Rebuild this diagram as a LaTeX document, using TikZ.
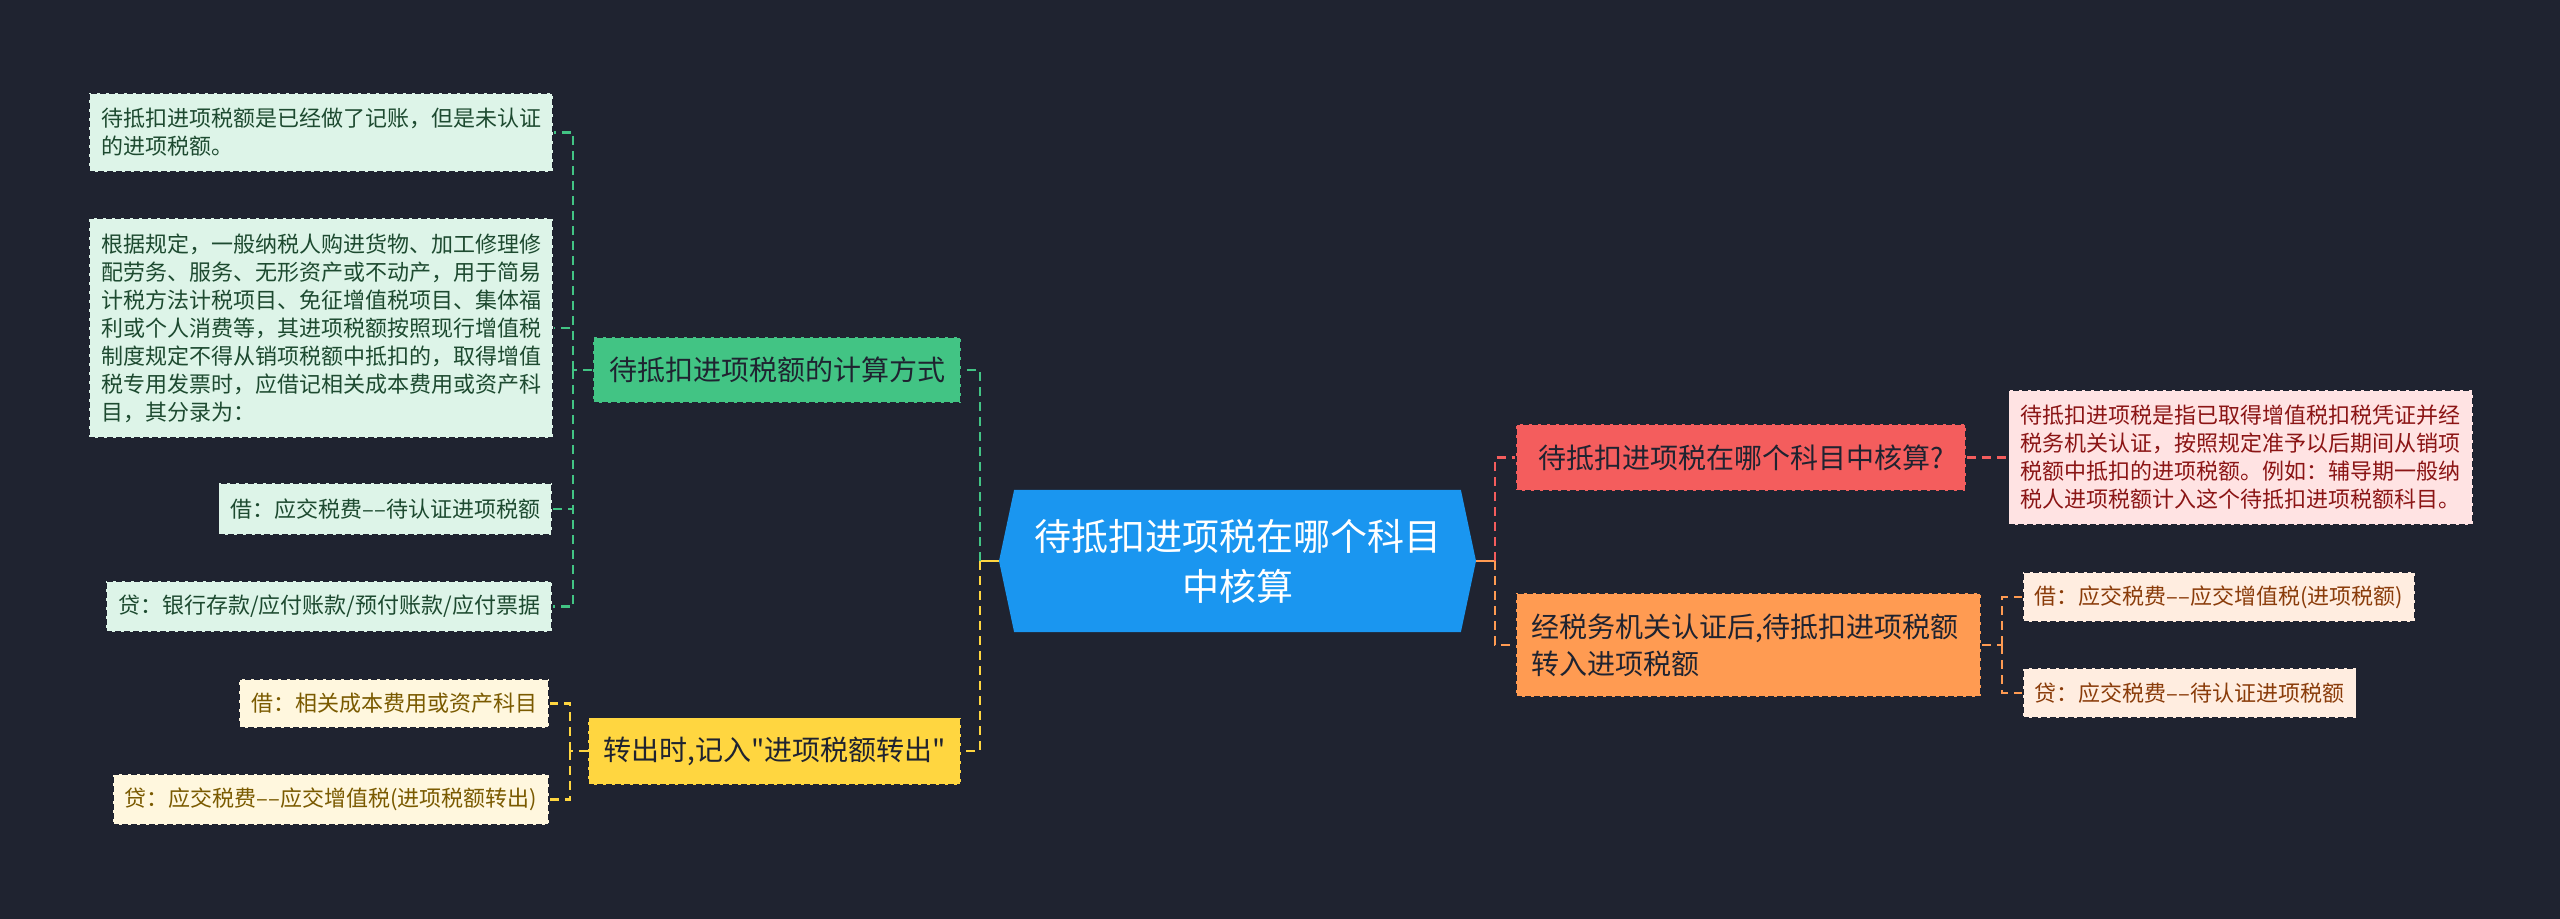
\documentclass[tikz,border=0pt]{standalone}
\usepackage{fontspec}
\setmainfont{Noto Sans CJK SC}[Ligatures=TeXOff]
\usetikzlibrary{shapes.symbols, positioning}
\definecolor{bgdark}{HTML}{1F2330}
\definecolor{rootblue}{HTML}{1A96F0}
\definecolor{gmain}{HTML}{42C484}
\definecolor{gleaf}{HTML}{DDF4E8}
\definecolor{gtext}{HTML}{1D4A30}
\definecolor{ymain}{HTML}{FFD640}
\definecolor{yleaf}{HTML}{FFF7DE}
\definecolor{ytext}{HTML}{7A5A00}
\definecolor{rmain}{HTML}{F45D5D}
\definecolor{rleaf}{HTML}{FFE3E3}
\definecolor{rtext}{HTML}{8B1515}
\definecolor{omain}{HTML}{FF9B52}
\definecolor{oleaf}{HTML}{FFEDE0}
\definecolor{otext}{HTML}{8A3C0A}
\newcommand{\dd}{–{}–}

\begin{document}
\begin{tikzpicture}[
        x=0.5pt, y=-0.5pt,
        rootbox/.style={shape=signal, signal to=west and east, signal pointer angle=156, fill=rootblue, text=white, align=center, inner sep=0pt, minimum width=238.5pt, minimum height=71pt, font=\fontsize{18.5}{25}\selectfont},
        mainbox/.style={rectangle, draw=bgdark, line width=0.8pt, dash pattern=on 3pt off 1.5pt, text=bgdark, inner xsep=7.5pt, font=\fontsize{14}{18.5}\selectfont},
        leafbox/.style={rectangle, draw=bgdark, line width=0.8pt, dash pattern=on 3pt off 1.5pt, align=left, inner xsep=6pt, font=\fontsize{11}{14}\selectfont},
        link/.style={line width=1.2pt, dash pattern=on 4.5pt off 3pt},
        stub/.style={line width=1.2pt}
    ]
        \fill[bgdark] (0,0) rectangle (2560,919);
        \useasboundingbox (0,0) rectangle (2560,919);

        \node (root) [rootbox] at (1237.5,561) {待抵扣进项税在哪个科目\\中核算};

        \node (calc) [mainbox, fill=gmain, minimum width=184pt, minimum height=33pt] at (777,370) {待抵扣进项税额的计算方式};
        \node (turn) [mainbox, fill=ymain, minimum width=185.5pt, minimum height=33.5pt] at (774.5,751) {转出时,记入"进项税额转出"};
        \node (where) [mainbox, fill=rmain, minimum width=225pt, minimum height=33.5pt] at (1741,457.5) {待抵扣进项税在哪个科目中核算?};
        \node (after) [mainbox, fill=omain, minimum width=232.5pt, minimum height=52pt, text width=217.5pt, align=left] at (1748.5,645) {经税务机关认证后,待抵扣进项税额\\转入进项税额};

        \node (calc1) [leafbox, fill=gleaf, text=gtext, minimum height=39.5pt, anchor=east] at (554,132.5) {待抵扣进项税额是已经做了记账，但是未认证\\的进项税额。};
        \node (calc2) [leafbox, fill=gleaf, text=gtext, minimum height=110pt, anchor=east] at (554,328) {根据规定，一般纳税人购进货物、加工修理修\\配劳务、服务、无形资产或不动产，用于简易\\计税方法计税项目、免征增值税项目、集体福\\利或个人消费等，其进项税额按照现行增值税\\制度规定不得从销项税额中抵扣的，取得增值\\税专用发票时，应借记相关成本费用或资产科\\目，其分录为：};
        \node (calc3) [leafbox, fill=gleaf, text=gtext, minimum height=26pt, anchor=east] at (553,509) {借：应交税费\dd 待认证进项税额};
        \node (calc4) [leafbox, fill=gleaf, text=gtext, minimum height=25.5pt, anchor=east] at (553,606.5) {贷：银行存款/应付账款/预付账款/应付票据};
        \node (turn1) [leafbox, fill=yleaf, text=ytext, minimum height=24.5pt, anchor=east] at (550,703.5) {借：相关成本费用或资产科目};
        \node (turn2) [leafbox, fill=yleaf, text=ytext, minimum height=25.5pt, anchor=east] at (550,799.5) {贷：应交税费\dd 应交增值税(进项税额转出)};
        \node (where1) [leafbox, fill=rleaf, text=rtext, minimum height=67.5pt, right=20.5pt of where] {待抵扣进项税是指已取得增值税扣税凭证并经\\税务机关认证，按照规定准予以后期间从销项\\税额中抵扣的进项税额。例如：辅导期一般纳\\税人进项税额计入这个待抵扣进项税额科目。};
        \node (after1) [leafbox, fill=oleaf, text=otext, minimum height=25pt, anchor=west] at (2022,597) {借：应交税费\dd 应交增值税(进项税额)};
        \node (after2) [leafbox, fill=oleaf, text=otext, minimum height=25pt, anchor=west] at (2022,693) {贷：应交税费\dd 待认证进项税额};

        \coordinate (jl) at (980,561);
        \coordinate (jr) at (1495,561);
        \coordinate (jc) at (573,370);
        \coordinate (jt) at (570,751);
        \coordinate (ja) at (2002,645);

        \draw [stub, ymain] (root.west) -- (jl);
        \draw [link, gmain] (jl) |- (calc.east);
        \draw [link, ymain] (jl) |- (turn.east);
        \draw [stub, omain] (root.east) -- (jr);
        \draw [link, rmain] (jr) |- (where.west);
        \draw [link, omain] (jr) |- (after.west);

        \draw [link, gmain] (calc.west) -- (jc);
        \foreach \leaf in {calc1, calc2, calc3, calc4}
            \draw [link, gmain] (jc) |- (\leaf.east);
        \draw [link, ymain] (turn.west) -- (jt);
        \foreach \leaf in {turn1, turn2}
            \draw [link, ymain] (jt) |- (\leaf.east);
        \draw [link, rmain] (where.east) -- (where1.west);
        \draw [link, omain] (after.east) -- (ja);
        \foreach \leaf in {after1, after2}
            \draw [link, omain] (ja) |- (\leaf.west);
    \end{tikzpicture}
\end{document}
